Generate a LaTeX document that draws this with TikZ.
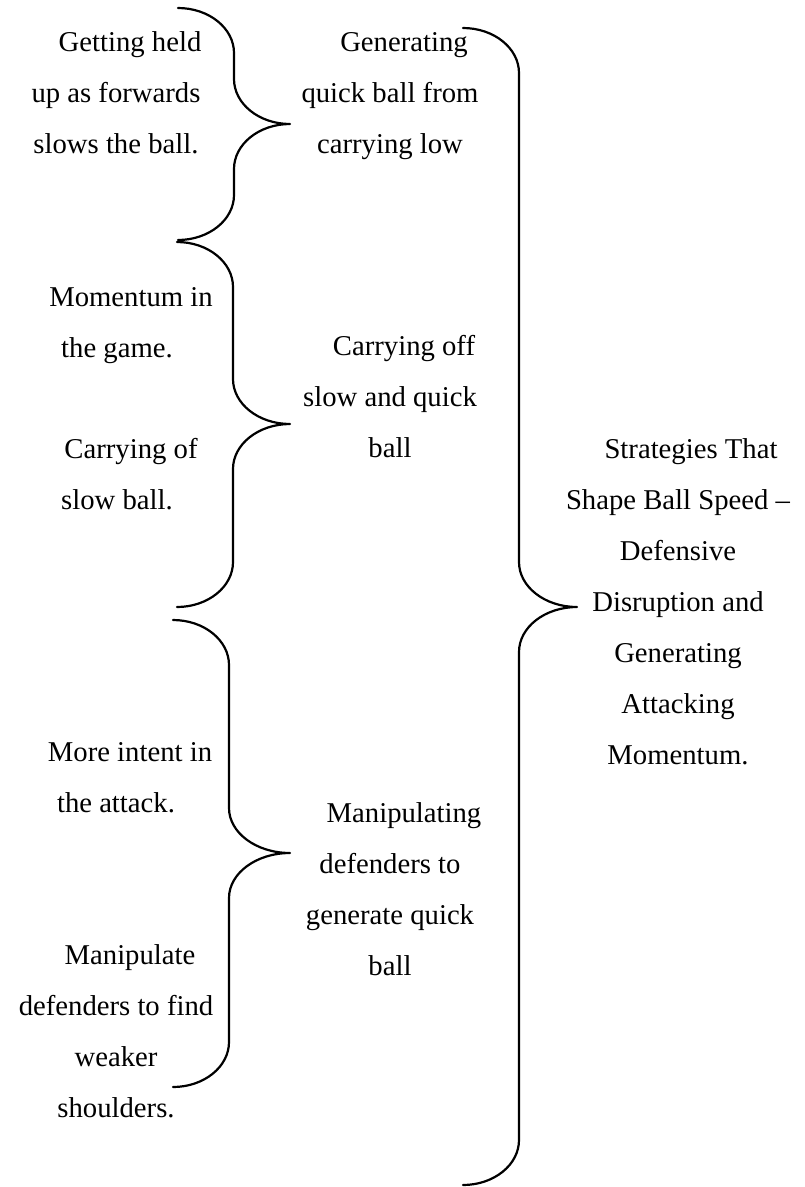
\documentclass[tikz,border=0pt]{standalone}
\usepackage{fontspec}
\setmainfont{Liberation Serif}
\newcommand\curlybrace[6]{%
  % #1 end x, #2 stem x, #3 tip x, #4 top y, #5 tip y, #6 bottom y
  \draw[bracestroke]
    (#1,#4) .. controls ({#1+0.552*(#2-#1)},#4) and (#2,{#4+45-0.552*45}) .. (#2,{#4+45})
    -- (#2,{#5-45})
    .. controls (#2,{#5-45+0.552*45}) and ({#3-0.552*(#3-#2)},#5) .. (#3,#5)
    .. controls ({#3-0.552*(#3-#2)},#5) and (#2,{#5+45-0.552*45}) .. (#2,{#5+45})
    -- (#2,{#6-45})
    .. controls (#2,{#6-45+0.552*45}) and ({#1+0.552*(#2-#1)},#6) .. (#1,#6);%
}
\begin{document}
\begin{tikzpicture}[x=1pt,y=-1pt,
  bracestroke/.style={line width=2.2pt,line cap=round,line join=round},
  label/.style={align=center,anchor=base,inner sep=0pt,
    font=\fontsize{28.7}{51}\selectfont}]
\useasboundingbox (0,0) rectangle (804,1187);

% left column (each node is placed at the baseline of its last line)
\node[label] (held) at (116,153) {\hspace*{28pt}Getting held\\up as forwards\\slows the ball.};
\node[label] (momentum) at (117,357) {\hspace*{28pt}Momentum in\\the game.};
\node[label] (slow) at (117,509) {\hspace*{28pt}Carrying of\\slow ball.};
\node[label] (intent) at (116,812) {\hspace*{28pt}More intent in\\the attack.};
\node[label] (shoulders) at (116,1117) {\hspace*{28pt}Manipulate\\defenders to find\\weaker\\shoulders.};

% middle column
\node[label] (quick) at (390,153) {\hspace*{28pt}Generating\\quick ball from\\carrying low};
\node[label] (carry) at (390,457) {\hspace*{28pt}Carrying off\\slow and quick\\ball};
\node[label] (manip) at (390,975) {\hspace*{28pt}Manipulating\\defenders to\\generate quick\\ball};

% right column
\node[label] (title) at (678,764) {\hspace*{26pt}Strategies That\\Shape Ball Speed --\\Defensive\\Disruption and\\Generating\\Attacking\\Momentum.};

% braces
\curlybrace{178}{234}{290}{8}{124}{240}
\curlybrace{177}{233}{290}{242}{424}{607}
\curlybrace{173}{229}{290}{620}{853}{1087}
\curlybrace{463}{519}{577}{28}{607}{1185}
\end{tikzpicture}
\end{document}
